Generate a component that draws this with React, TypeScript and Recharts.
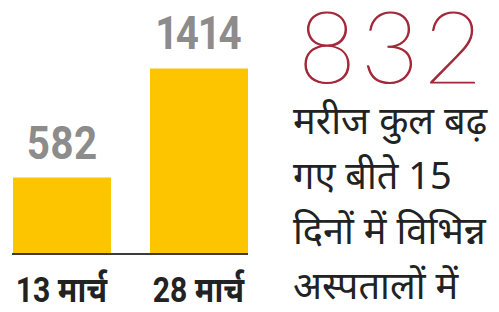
import { BarChart, Bar, XAxis, YAxis, LabelList } from "recharts";

const dates = ["13 मार्च", "28 मार्च"];
const patients = [582, 1414];
const increase = "832";
const noteLines = ["मरीज कुल बढ़", "गए बीते 15", "दिनों में विभिन्न", "अस्पतालों में"];

const data = dates.map((date, i) => ({ date, patients: patients[i] }));

const BOLD_FONT = "Roboto, 'Noto Sans', sans-serif";

// reference uses a condensed face, so squeeze the text horizontally
function DateTick({ x, y, payload }: any) {
  return (
    <g transform={`translate(${x},${y})`}>
      <text
        transform="scale(0.86,1)"
        textAnchor="middle"
        dy="0.71em"
        fontSize={35}
        fontWeight={700}
        fill="#222"
        fontFamily={BOLD_FONT}
      >
        {payload.value}
      </text>
    </g>
  );
}

function ValueLabel({ x, y, width, value }: any) {
  const cx = x + width / 2;
  return (
    <g transform={`translate(${cx},${y - 19})`}>
      <text
        transform="scale(0.86,1)"
        textAnchor="middle"
        fontSize={47}
        fontWeight={700}
        fill="#8c8c8c"
        fontFamily={BOLD_FONT}
        style={{ fontVariantNumeric: "proportional-nums" }}
      >
        {value}
      </text>
    </g>
  );
}

export default function App() {
  return (
    <div style={{ position: "relative", width: 499, height: 312, margin: -8, background: "#fff" }}>
      <BarChart
        width={260}
        height={312}
        data={data}
        margin={{ top: 44, right: 12, bottom: 0, left: 12 }}
        barSize={98}
      >
        <YAxis hide domain={[0, 1600]} />
        <XAxis
          dataKey="date"
          height={58}
          padding={{ left: -19, right: -19 }}
          tickLine={false}
          tickSize={0}
          tickMargin={23}
          axisLine={{ stroke: "#3b3b3b", strokeWidth: 2 }}
          tick={<DateTick />}
        />
        <Bar dataKey="patients" fill="#fdc500" isAnimationActive={false}>
          <LabelList dataKey="patients" content={<ValueLabel />} />
        </Bar>
      </BarChart>
      <div
        style={{
          position: "absolute",
          left: 298,
          top: 4,
          fontFamily: "Lato, 'Noto Sans', sans-serif",
          fontWeight: 200,
          fontSize: 100,
          letterSpacing: 5,
          color: "#a2283a",
          WebkitTextStroke: "1.2px #a2283a",
          lineHeight: "80px",
        }}
      >
        {increase}
      </div>
      <div
        style={{
          position: "absolute",
          left: 293,
          top: 92,
          fontFamily: "'Noto Sans', sans-serif",
          fontSize: 38,
          lineHeight: "55px",
          color: "#222",
          whiteSpace: "nowrap",
        }}
      >
        {noteLines.map((line) => (
          <div key={line}>{line}</div>
        ))}
      </div>
    </div>
  );
}
